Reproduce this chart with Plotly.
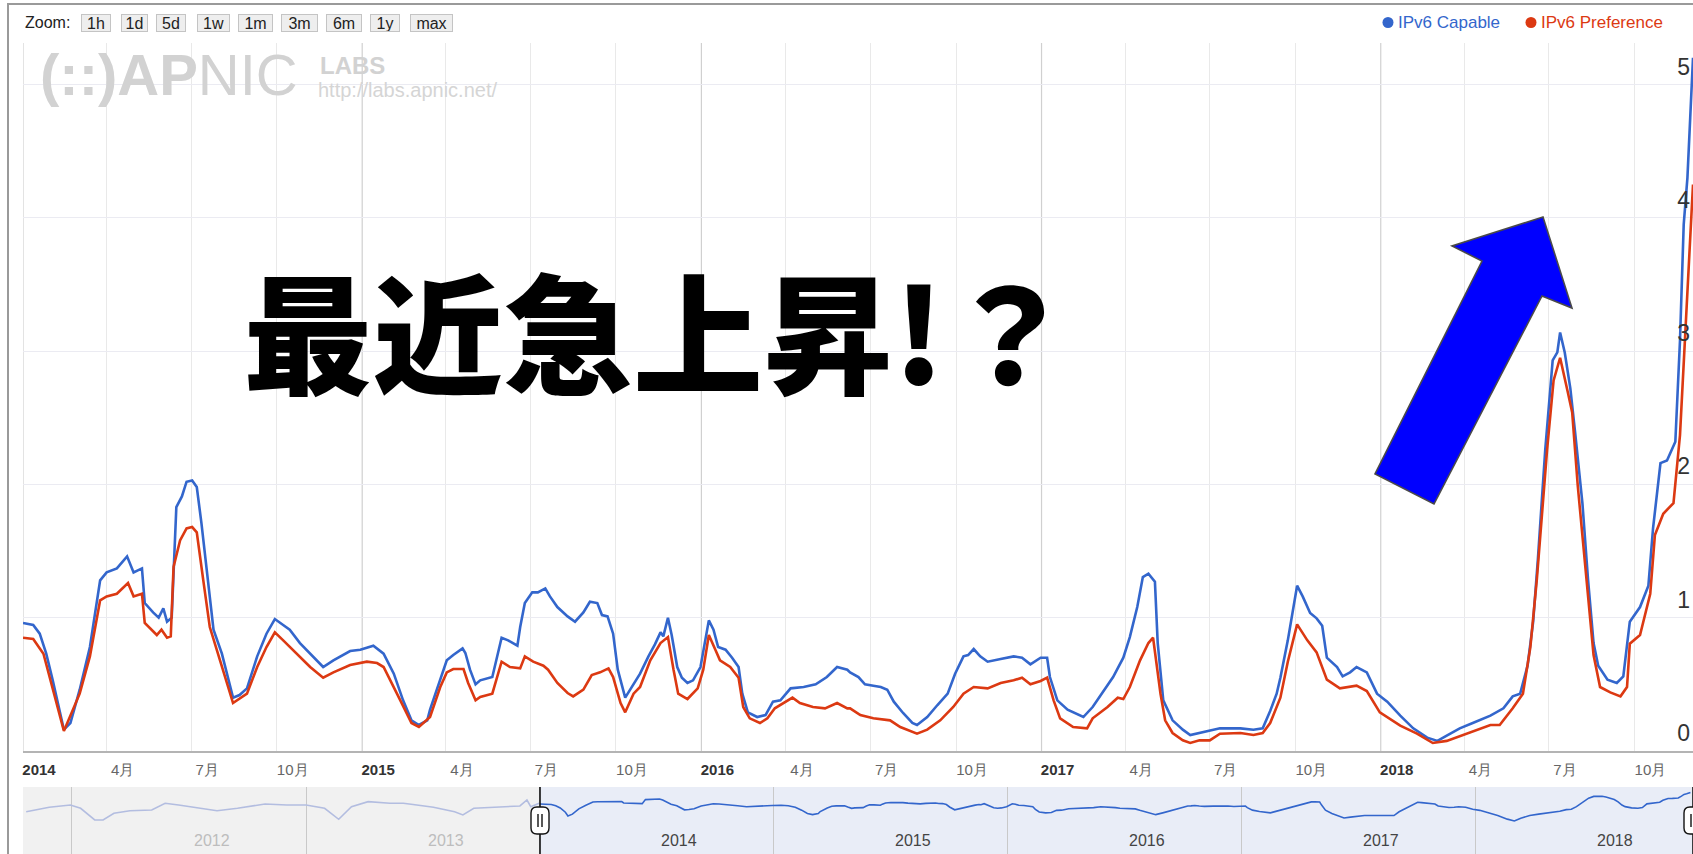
import plotly.graph_objects as go

# ---------------- data ----------------
cap_dates = [
    "2014-01-01", "2014-01-12", "2014-01-19", "2014-01-26", "2014-02-02", "2014-02-10", "2014-02-14", "2014-02-21",
    "2014-03-03", "2014-03-14", "2014-03-25", "2014-04-01", "2014-04-12", "2014-04-23", "2014-04-30", "2014-05-09",
    "2014-05-12", "2014-05-21", "2014-05-27", "2014-06-01", "2014-06-05", "2014-06-10", "2014-06-15", "2014-06-21",
    "2014-06-26", "2014-07-02", "2014-07-07", "2014-07-12", "2014-07-18", "2014-07-25", "2014-08-03", "2014-08-15",
    "2014-08-22", "2014-08-30", "2014-09-10", "2014-09-20", "2014-09-29", "2014-10-08", "2014-10-15", "2014-10-26",
    "2014-11-06", "2014-11-20", "2014-12-01", "2014-12-19", "2014-12-30", "2015-01-13", "2015-01-24", "2015-02-04",
    "2015-02-14", "2015-02-23", "2015-03-03", "2015-03-12", "2015-03-15", "2015-03-26", "2015-04-02", "2015-04-09",
    "2015-04-19", "2015-04-22", "2015-04-27", "2015-05-03", "2015-05-08", "2015-05-21", "2015-05-26", "2015-05-31",
    "2015-06-07", "2015-06-17", "2015-06-20", "2015-06-25", "2015-07-03", "2015-07-09", "2015-07-17", "2015-07-22",
    "2015-07-30", "2015-08-10", "2015-08-18", "2015-08-27", "2015-09-03", "2015-09-11", "2015-09-16", "2015-09-22",
    "2015-09-28", "2015-10-03", "2015-10-11", "2015-10-20", "2015-10-27", "2015-11-05", "2015-11-12", "2015-11-18",
    "2015-11-21", "2015-11-26", "2015-11-30", "2015-12-06", "2015-12-11", "2015-12-17", "2015-12-23", "2015-12-31",
    "2016-01-05", "2016-01-09", "2016-01-14", "2016-01-19", "2016-01-27", "2016-02-03", "2016-02-10", "2016-02-14",
    "2016-02-20", "2016-03-01", "2016-03-10", "2016-03-18", "2016-03-26", "2016-04-06", "2016-04-20", "2016-05-03",
    "2016-05-15", "2016-05-26", "2016-06-06", "2016-06-09", "2016-06-18", "2016-06-25", "2016-07-04", "2016-07-12",
    "2016-07-19", "2016-07-26", "2016-08-05", "2016-08-15", "2016-08-20", "2016-08-31", "2016-09-11", "2016-09-22",
    "2016-09-30", "2016-10-09", "2016-10-14", "2016-10-20", "2016-10-27", "2016-11-04", "2016-11-18", "2016-12-02",
    "2016-12-11", "2016-12-20", "2016-12-31", "2017-01-07", "2017-01-10", "2017-01-18", "2017-01-29", "2017-02-08",
    "2017-02-15", "2017-02-25", "2017-03-08", "2017-03-19", "2017-03-30", "2017-04-06", "2017-04-14", "2017-04-20",
    "2017-04-26", "2017-05-03", "2017-05-06", "2017-05-12", "2017-05-22", "2017-06-02", "2017-06-10", "2017-06-20",
    "2017-06-28", "2017-07-12", "2017-08-03", "2017-08-17", "2017-08-27", "2017-09-04", "2017-09-11", "2017-09-15",
    "2017-09-23", "2017-09-29", "2017-10-03", "2017-10-09", "2017-10-17", "2017-10-24", "2017-10-30", "2017-11-04",
    "2017-11-15", "2017-11-21", "2017-11-29", "2017-12-06", "2017-12-17", "2017-12-28", "2018-01-08", "2018-01-22",
    "2018-02-05", "2018-02-20", "2018-03-03", "2018-03-13", "2018-03-27", "2018-04-10", "2018-04-29", "2018-05-13",
    "2018-05-23", "2018-05-31", "2018-06-08", "2018-06-14", "2018-06-19", "2018-06-27", "2018-07-05", "2018-07-10",
    "2018-07-13", "2018-07-18", "2018-07-24", "2018-07-29", "2018-08-06", "2018-08-12", "2018-08-18", "2018-08-23",
    "2018-09-02", "2018-09-12", "2018-09-19", "2018-09-26", "2018-10-07", "2018-10-16", "2018-10-21", "2018-10-29",
    "2018-11-05", "2018-11-14", "2018-11-19", "2018-11-23", "2018-11-27", "2018-11-30", "2018-12-03",
]
cap_vals = [
    0.96, 0.945, 0.88, 0.73, 0.53, 0.28, 0.16, 0.21,
    0.46, 0.78, 1.28, 1.34, 1.37, 1.46, 1.34, 1.37,
    1.11, 1.04, 1.0, 1.07, 0.97, 1.0, 1.83, 1.91,
    2.02, 2.03, 1.98, 1.71, 1.34, 0.91, 0.73, 0.40,
    0.42, 0.47, 0.71, 0.88, 0.99, 0.945, 0.91, 0.81,
    0.73, 0.63, 0.68, 0.75, 0.76, 0.79, 0.73, 0.58,
    0.38, 0.23, 0.195, 0.23, 0.31, 0.53, 0.68, 0.72,
    0.77, 0.735, 0.61, 0.50, 0.53, 0.555, 0.71, 0.85,
    0.83, 0.79, 0.93, 1.11, 1.19, 1.19, 1.22, 1.16,
    1.08, 1.01, 0.97, 1.04, 1.12, 1.11, 1.02, 1.01,
    0.88, 0.61, 0.40, 0.50, 0.58, 0.71, 0.80, 0.89,
    0.86, 1.0, 0.87, 0.63, 0.55, 0.51, 0.53, 0.63,
    0.81, 0.98, 0.91, 0.78, 0.76, 0.70, 0.63, 0.43,
    0.29, 0.255, 0.27, 0.37, 0.38, 0.47, 0.48, 0.50,
    0.555, 0.63, 0.61, 0.59, 0.555, 0.50, 0.49, 0.48,
    0.46, 0.37, 0.285, 0.21, 0.195, 0.255, 0.345, 0.43,
    0.58, 0.71, 0.72, 0.765, 0.71, 0.67, 0.69, 0.71,
    0.70, 0.65, 0.70, 0.70, 0.555, 0.38, 0.31, 0.28,
    0.255, 0.33, 0.44, 0.555, 0.70, 0.855, 1.08, 1.305,
    1.33, 1.27, 0.81, 0.38, 0.23, 0.16, 0.12, 0.135,
    0.15, 0.17, 0.17, 0.16, 0.17, 0.30, 0.43, 0.55,
    0.83, 1.08, 1.24, 1.16, 1.035, 0.995, 0.94, 0.70,
    0.63, 0.56, 0.59, 0.63, 0.59, 0.43, 0.37, 0.265,
    0.17, 0.10, 0.076, 0.116, 0.17, 0.21, 0.265, 0.32,
    0.41, 0.43, 0.64, 0.97, 1.43, 2.26, 2.93, 2.99,
    3.14, 2.99, 2.72, 2.40, 1.86, 1.29, 0.81, 0.64,
    0.535, 0.51, 0.56, 0.97, 1.08, 1.24, 1.67, 2.16,
    2.18, 2.32, 3.08, 3.95, 4.3, 4.75, 5.2,
]

pref_dates = [
    "2014-01-01", "2014-01-12", "2014-01-23", "2014-02-02", "2014-02-14", "2014-03-03", "2014-03-14", "2014-03-25",
    "2014-04-01", "2014-04-12", "2014-04-24", "2014-04-30", "2014-05-09", "2014-05-12", "2014-05-25", "2014-05-30",
    "2014-06-05", "2014-06-09", "2014-06-12", "2014-06-19", "2014-06-26", "2014-07-02", "2014-07-07", "2014-07-14",
    "2014-07-21", "2014-08-01", "2014-08-15", "2014-08-30", "2014-09-10", "2014-09-20", "2014-09-29", "2014-10-08",
    "2014-10-26", "2014-11-06", "2014-11-20", "2014-12-01", "2014-12-19", "2015-01-06", "2015-01-17", "2015-01-24",
    "2015-02-11", "2015-02-23", "2015-03-03", "2015-03-15", "2015-03-26", "2015-04-02", "2015-04-09", "2015-04-20",
    "2015-04-25", "2015-05-03", "2015-05-08", "2015-05-21", "2015-05-31", "2015-06-09", "2015-06-20", "2015-06-25",
    "2015-07-04", "2015-07-15", "2015-07-20", "2015-07-30", "2015-08-10", "2015-08-16", "2015-08-27", "2015-09-05",
    "2015-09-14", "2015-09-23", "2015-09-28", "2015-10-06", "2015-10-11", "2015-10-20", "2015-10-27", "2015-11-07",
    "2015-11-18", "2015-11-26", "2015-12-02", "2015-12-07", "2015-12-17", "2015-12-28", "2016-01-03", "2016-01-09",
    "2016-01-16", "2016-01-21", "2016-02-01", "2016-02-10", "2016-02-15", "2016-02-22", "2016-03-04", "2016-03-12",
    "2016-03-20", "2016-03-29", "2016-04-08", "2016-04-16", "2016-04-30", "2016-05-13", "2016-05-26", "2016-06-06",
    "2016-06-09", "2016-06-20", "2016-07-04", "2016-07-22", "2016-08-02", "2016-08-20", "2016-08-31", "2016-09-14",
    "2016-09-28", "2016-10-09", "2016-10-20", "2016-11-04", "2016-11-18", "2016-12-02", "2016-12-11", "2016-12-20",
    "2016-12-31", "2017-01-07", "2017-01-14", "2017-01-21", "2017-02-04", "2017-02-19", "2017-02-25", "2017-03-13",
    "2017-03-24", "2017-03-30", "2017-04-06", "2017-04-17", "2017-04-26", "2017-05-01", "2017-05-09", "2017-05-14",
    "2017-05-22", "2017-06-02", "2017-06-10", "2017-06-20", "2017-07-01", "2017-07-12", "2017-08-03", "2017-08-17",
    "2017-08-27", "2017-09-04", "2017-09-15", "2017-09-23", "2017-10-03", "2017-10-14", "2017-10-24", "2017-11-04",
    "2017-11-18", "2017-12-06", "2017-12-17", "2017-12-31", "2018-01-22", "2018-02-09", "2018-02-26", "2018-03-13",
    "2018-04-04", "2018-04-29", "2018-05-09", "2018-05-23", "2018-06-03", "2018-06-11", "2018-06-18", "2018-06-29",
    "2018-07-06", "2018-07-13", "2018-07-21", "2018-07-26", "2018-08-01", "2018-08-11", "2018-08-18", "2018-08-25",
    "2018-09-05", "2018-09-16", "2018-09-23", "2018-09-26", "2018-10-07", "2018-10-18", "2018-10-23", "2018-11-01",
    "2018-11-12", "2018-11-19", "2018-11-23", "2018-11-27", "2018-11-30", "2018-12-03",
]
pref_vals = [
    0.85, 0.84, 0.73, 0.46, 0.15, 0.43, 0.71, 1.13,
    1.16, 1.18, 1.26, 1.16, 1.18, 0.96, 0.87, 0.91,
    0.85, 0.86, 1.38, 1.58, 1.67, 1.68, 1.64, 1.28,
    0.93, 0.68, 0.36, 0.43, 0.63, 0.78, 0.89, 0.83,
    0.71, 0.63, 0.55, 0.59, 0.645, 0.67, 0.66, 0.63,
    0.38, 0.21, 0.18, 0.255, 0.48, 0.59, 0.615, 0.615,
    0.51, 0.38, 0.405, 0.43, 0.67, 0.63, 0.62, 0.71,
    0.67, 0.64, 0.61, 0.51, 0.435, 0.41, 0.46, 0.57,
    0.59, 0.62, 0.555, 0.36, 0.29, 0.43, 0.48, 0.68,
    0.81, 0.855, 0.61, 0.43, 0.39, 0.47, 0.61, 0.87,
    0.76, 0.68, 0.63, 0.55, 0.33, 0.245, 0.21, 0.245,
    0.32, 0.36, 0.40, 0.36, 0.33, 0.32, 0.36, 0.32,
    0.32, 0.27, 0.245, 0.23, 0.18, 0.13, 0.16, 0.23,
    0.33, 0.43, 0.48, 0.47, 0.51, 0.53, 0.55, 0.50,
    0.525, 0.55, 0.38, 0.245, 0.18, 0.17, 0.245, 0.33,
    0.40, 0.39, 0.48, 0.68, 0.81, 0.85, 0.43, 0.23,
    0.135, 0.08, 0.06, 0.08, 0.08, 0.13, 0.135, 0.12,
    0.135, 0.21, 0.40, 0.67, 0.95, 0.83, 0.74, 0.535,
    0.47, 0.49, 0.45, 0.29, 0.19, 0.13, 0.06, 0.076,
    0.13, 0.195, 0.195, 0.32, 0.43, 0.78, 1.29, 2.26,
    2.78, 2.95, 2.70, 2.54, 1.99, 1.26, 0.72, 0.48,
    0.44, 0.41, 0.48, 0.805, 0.87, 1.18, 1.62, 1.78,
    1.86, 2.37, 2.9, 3.35, 3.8, 4.25,
]

# navigator (range selector) history before the selected window
nav_pre_dates = [
    "2011-10-22", "2011-11-27", "2011-12-30", "2012-01-15", "2012-02-06", "2012-02-19", "2012-03-07", "2012-04-01",
    "2012-05-05", "2012-05-26", "2012-06-16", "2012-07-20", "2012-08-15", "2012-09-16", "2012-10-29", "2012-12-02",
    "2013-01-01", "2013-01-30", "2013-02-21", "2013-03-13", "2013-04-08", "2013-05-12", "2013-06-02", "2013-06-23",
    "2013-07-19", "2013-08-21", "2013-09-03", "2013-09-20", "2013-10-28", "2013-12-01", "2013-12-12", "2013-12-18",
    "2013-12-31",
]
nav_pre_vals = [
    0.30, 0.58, 0.82, 0.50, 0.089, 0.089, 0.24, 0.35,
    0.39, 1.05, 0.82, 0.50, 0.35, 0.50, 0.95, 0.82,
    0.82, 0.50, 0.098, 0.64, 1.34, 1.05, 1.05, 0.82,
    0.58, 0.30, 0.186, 0.50, 0.58, 0.71, 1.72, 0.64,
    1.05,
]

tick_dates = [
    "2014-01-01", "2014-04-01", "2014-07-01", "2014-10-01",
    "2015-01-01", "2015-04-01", "2015-07-01", "2015-10-01",
    "2016-01-01", "2016-04-01", "2016-07-01", "2016-10-01",
    "2017-01-01", "2017-04-01", "2017-07-01", "2017-10-01",
    "2018-01-01", "2018-04-01", "2018-07-01", "2018-10-01",
]
tick_labels = [
    "2014", "4月", "7月", "10月", "2015", "4月", "7月", "10月",
    "2016", "4月", "7月", "10月", "2017", "4月", "7月", "10月",
    "2018", "4月", "7月", "10月",
]
nav_years = ["2012", "2013", "2014", "2015", "2016", "2017", "2018"]
y_ticks = [0, 1, 2, 3, 4, 5]
zoom_buttons = ["1h", "1d", "5d", "1w", "1m", "3m", "6m", "1y", "max"]
series_names = ["IPv6 Capable", "IPv6 Preference"]
headline = "最近急上昇!？"

# ---------------- layout helpers (pixel -> paper) ----------------
W, H = 1693, 854
L, R, T, B = 23, 1693, 43, 854
def PX(p):
    return (p - L) / (R - L)
def PY(p):
    return (B - p) / (B - T)

BLUE = "#3366cc"
RED = "#dc3912"
FONT = "Liberation Sans, Arial, sans-serif"

fig = go.Figure()
fig.add_trace(go.Scatter(x=cap_dates, y=cap_vals, mode="lines", name=series_names[0],
                         line=dict(color=BLUE, width=2.6), xaxis="x", yaxis="y"))
fig.add_trace(go.Scatter(x=pref_dates, y=pref_vals, mode="lines", name=series_names[1],
                         line=dict(color=RED, width=2.6), xaxis="x", yaxis="y"))
# navigator lines
fig.add_trace(go.Scatter(x=nav_pre_dates, y=nav_pre_vals, mode="lines", showlegend=False,
                         line=dict(color="#b3bde0", width=1.6), xaxis="x2", yaxis="y2", hoverinfo="skip"))
fig.add_trace(go.Scatter(x=cap_dates, y=cap_vals, mode="lines", showlegend=False,
                         line=dict(color=BLUE, width=1.6), xaxis="x2", yaxis="y2", hoverinfo="skip"))

ticktext = []
year_ticks, month_ticks = [], []
for d, t in zip(tick_dates, tick_labels):
    if t.isdigit():
        ticktext.append("<span style='color:#333'><b>%s</b></span>" % t)
        year_ticks.append(d)
    else:
        ticktext.append(t)
        month_ticks.append(d)

shapes = []
# outer frame
shapes.append(dict(type="line", xref="paper", yref="paper", x0=PX(8), x1=PX(8), y0=PY(3), y1=PY(860),
                   line=dict(color="#9a9a9a", width=2)))
shapes.append(dict(type="line", xref="paper", yref="paper", x0=PX(7), x1=PX(1700), y0=PY(4), y1=PY(4),
                   line=dict(color="#9a9a9a", width=2)))
# darker year grid lines in the main panel
for d in year_ticks:
    shapes.append(dict(type="line", xref="x", yref="paper", x0=d, x1=d, y0=PY(751), y1=1,
                       line=dict(color="#d0d0d0", width=1.2), layer="below"))
# navigator backgrounds
shapes.append(dict(type="rect", xref="paper", yref="paper", x0=PX(23), x1=PX(540), y0=0, y1=PY(787),
                   fillcolor="#f1f1f1", line=dict(width=0), layer="below"))
shapes.append(dict(type="rect", xref="paper", yref="paper", x0=PX(540), x1=PX(1700), y0=0, y1=PY(787),
                   fillcolor="#e9edf7", line=dict(width=0), layer="below"))

def rrect(x0, y0, x1, y1, r):
    pts = [
        ("M", [(x0 + r, y0)]), ("L", [(x1 - r, y0)]), ("Q", [(x1, y0), (x1, y0 + r)]),
        ("L", [(x1, y1 - r)]), ("Q", [(x1, y1), (x1 - r, y1)]), ("L", [(x0 + r, y1)]),
        ("Q", [(x0, y1), (x0, y1 - r)]), ("L", [(x0, y0 + r)]), ("Q", [(x0, y0), (x0 + r, y0)]),
    ]
    s = ""
    for cmd, ps in pts:
        s += cmd + " " + " ".join("%.5f,%.5f" % (PX(a), PY(b)) for a, b in ps) + " "
    return s + "Z"

for hx in (540, 1693):
    shapes.append(dict(type="line", xref="paper", yref="paper", x0=PX(hx), x1=PX(hx), y0=0, y1=PY(787),
                       line=dict(color="#111", width=1.6)))
    shapes.append(dict(type="path", xref="paper", yref="paper", path=rrect(hx - 9, 807, hx + 9, 834, 6),
                       fillcolor="white", line=dict(color="#111", width=1.4)))
    for dx in (-2, 2):
        shapes.append(dict(type="line", xref="paper", yref="paper", x0=PX(hx + dx), x1=PX(hx + dx),
                           y0=PY(827), y1=PY(814), line=dict(color="#111", width=1.4)))

# legend dots
for cx, col in ((1388, BLUE), (1531, RED)):
    shapes.append(dict(type="circle", xref="paper", yref="paper", x0=PX(cx - 5.5), x1=PX(cx + 5.5),
                       y0=PY(28), y1=PY(17), fillcolor=col, line=dict(width=0)))

# blue block arrow
arrow_pts = [(1543, 217), (1572, 308), (1542, 296), (1434, 504), (1375, 474), (1482, 261), (1452, 246)]
arrow_path = "M " + " L ".join("%.5f,%.5f" % (PX(a), PY(b)) for a, b in arrow_pts) + " Z"
shapes.append(dict(type="path", xref="paper", yref="paper", path=arrow_path,
                   fillcolor="#0000ff", line=dict(color="#4a4a4a", width=1.6)))

annotations = []
# toolbar
annotations.append(dict(text="Zoom:", x=PX(23), y=PY(22.5), xref="paper", yref="paper", xanchor="left",
                        yanchor="middle", showarrow=False, font=dict(family=FONT, size=16, color="#222")))
btn_centers = [96, 134.5, 171, 213.5, 255.5, 299.5, 344, 385, 431.5]
btn_widths = [28, 25, 28, 31, 33, 35, 34, 28, 41]
for lab, cx, bw in zip(zoom_buttons, btn_centers, btn_widths):
    annotations.append(dict(text=lab, x=PX(cx), y=PY(23), xref="paper", yref="paper", xanchor="center",
                            yanchor="middle", showarrow=False, bgcolor="#eeeeee", bordercolor="#c4c4c4",
                            borderwidth=1, borderpad=0, width=bw, height=16, align="center",
                            font=dict(family=FONT, size=16, color="#222")))
# legend texts
annotations.append(dict(text=series_names[0], x=PX(1396), y=PY(22.5), xref="paper", yref="paper",
                        xanchor="left", yanchor="middle", showarrow=False,
                        font=dict(family=FONT, size=17, color=BLUE)))
annotations.append(dict(text=series_names[1], x=PX(1539), y=PY(22.5), xref="paper", yref="paper",
                        xanchor="left", yanchor="middle", showarrow=False,
                        font=dict(family=FONT, size=17, color=RED)))
# watermark
annotations.append(dict(text="<b>(::)AP</b>NIC", x=PX(38), y=PY(74), xref="paper", yref="paper",
                        xanchor="left", yanchor="middle", showarrow=False,
                        font=dict(family=FONT, size=58, color="#d2d2d2")))
annotations.append(dict(text="<b>LABS</b>", x=PX(318), y=PY(65), xref="paper", yref="paper",
                        xanchor="left", yanchor="middle", showarrow=False,
                        font=dict(family=FONT, size=24, color="#d2d2d2")))
annotations.append(dict(text="http://labs.apnic.net/", x=PX(316), y=PY(90), xref="paper", yref="paper",
                        xanchor="left", yanchor="middle", showarrow=False,
                        font=dict(family=FONT, size=20, color="#d5d5d5")))
# headline
annotations.append(dict(text=headline, x=PX(241), y=PY(327), xref="paper", yref="paper",
                        xanchor="left", yanchor="middle", showarrow=False,
                        font=dict(family="Noto Sans CJK JP", size=130, color="black", weight=900)))
# navigator year labels
for yr in nav_years:
    annotations.append(dict(text=yr, x=yr + "-08-07", y=PY(840), xref="x2", yref="paper",
                            xanchor="center", yanchor="middle", showarrow=False,
                            font=dict(family=FONT, size=16,
                                      color="#bdbdbd" if int(yr) < 2014 else "#444")))

fig.update_layout(
    width=W, height=H,
    margin=dict(l=L, r=W - R, t=T, b=H - B, pad=0),
    paper_bgcolor="white", plot_bgcolor="rgba(0,0,0,0)",
    showlegend=False,
    hovermode=False,
    xaxis=dict(type="date", range=["2014-01-01", "2018-12-03"], domain=[0, 1], anchor="y",
               tickmode="array", tickvals=tick_dates, ticktext=ticktext,
               showgrid=False, ticks="",
               minor=dict(tickmode="array", tickvals=month_ticks, showgrid=True,
                          gridcolor="#e9e9e9", gridwidth=1, ticks=""),
               showline=True, linecolor="#b4b4b4", linewidth=2, zeroline=False,
               tickfont=dict(family=FONT, size=15, color="#666"),
               ticklabelshift=16, ticklabelstandoff=4, fixedrange=True),
    yaxis=dict(range=[0, (751 - 43) / 133.3], domain=[PY(751), 1], anchor="x", side="right",
               ticklabelposition="inside", tickmode="array", tickvals=y_ticks,
               showgrid=True, gridcolor="#ebebf2", gridwidth=1, zeroline=False, showline=False, ticks="",
               tickfont=dict(family=FONT, size=23, color="#333"),
               ticklabelshift=-18, fixedrange=True),
    xaxis2=dict(type="date", range=["2011-10-17", "2018-12-07"], domain=[0, 1], anchor="y2",
                tickmode="array", tickvals=[y + "-01-01" for y in nav_years],
                showticklabels=False, showgrid=True, gridcolor="#c9c9c9", gridwidth=1,
                ticks="", showline=False, zeroline=False, fixedrange=True),
    yaxis2=dict(type="log", range=[-3.25, 1.075], domain=[0, PY(787)], anchor="x2",
                showticklabels=False, showgrid=False, zeroline=False, showline=False, fixedrange=True),
    shapes=shapes,
    annotations=annotations,
)

fig.write_html("out.html", include_plotlyjs=True, full_html=True, config={"displayModeBar": False})
with open("out.html", "r", encoding="utf-8") as f:
    html = f.read()
html = html.replace("<body>", "<body style=\"margin:0;padding:0;overflow:hidden\">", 1)
with open("out.html", "w", encoding="utf-8") as f:
    f.write(html)
